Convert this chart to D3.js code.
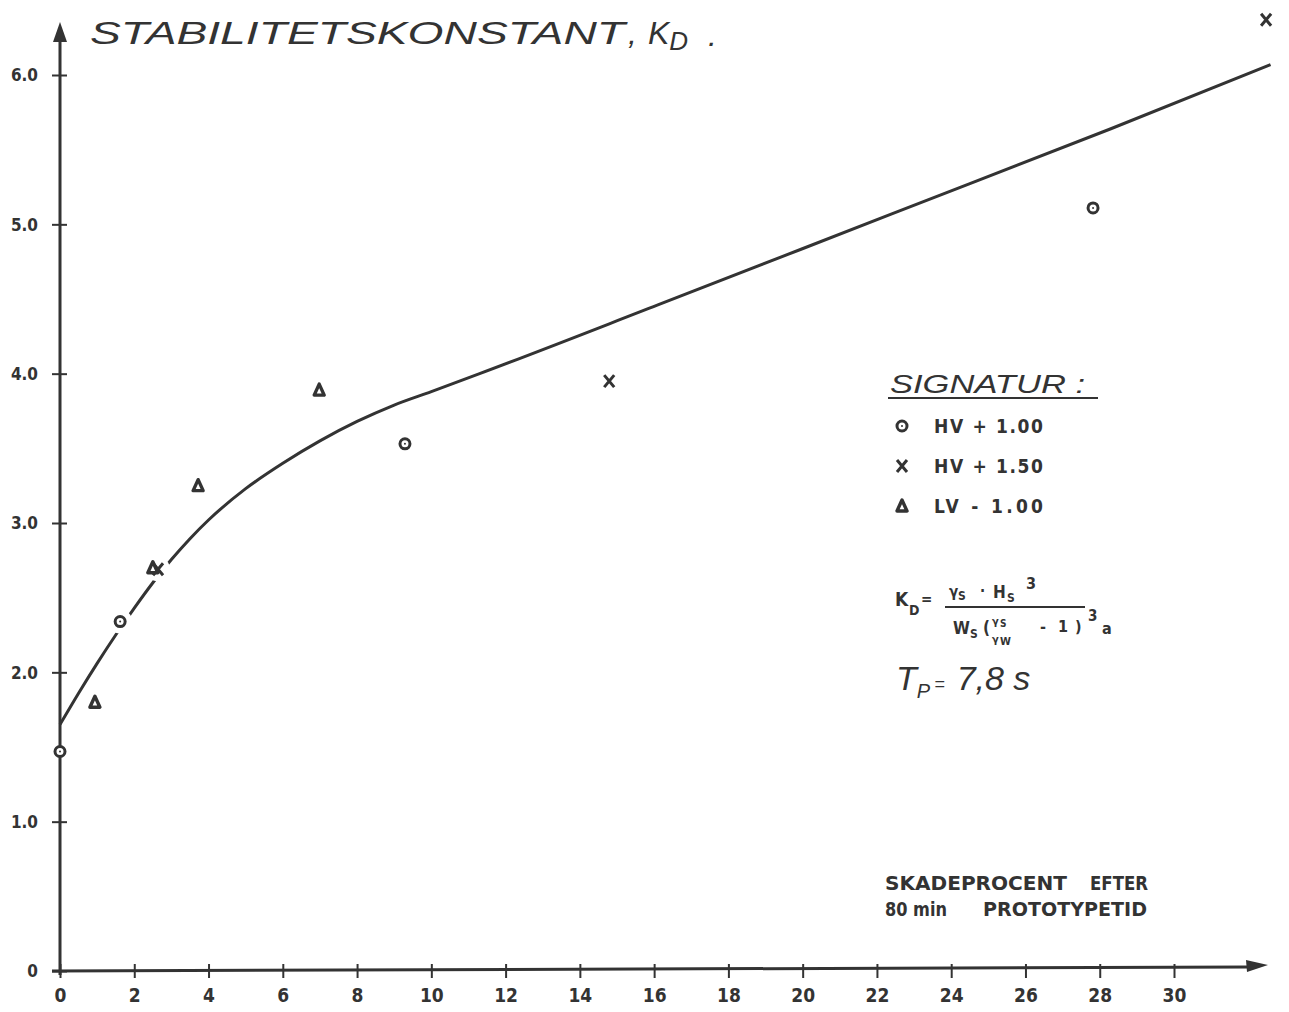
<!DOCTYPE html>
<html><head><meta charset="utf-8">
<script src="https://cdn.jsdelivr.net/npm/d3@7"></script>
<style>body{margin:0;background:#fff}</style>
</head><body>
<svg id="c" width="1289" height="1012"></svg>
<script>
// ---- data ----
const xTicks = [0,2,4,6,8,10,12,14,16,18,20,22,24,26,28,30];
const yTicks = [0,1,2,3,4,5,6];
const yTickLabels = ["0","1.0","2.0","3.0","4.0","5.0","6.0"];
const curveX = [0, 0.5, 1.0, 1.5, 2.0, 2.5, 3.0, 3.5, 4.0, 5.0, 6.0, 7.0, 8.0, 9.0, 10.0, 11.3, 16.1, 22.4, 28.3, 32.6];
const curveY = [1.65, 1.86, 2.06, 2.25, 2.43, 2.60, 2.755, 2.895, 3.02, 3.23, 3.40, 3.55, 3.68, 3.79, 3.88, 4.0, 4.46, 5.07, 5.64, 6.07];
const circleX = [0, 1.62, 9.29, 27.82];
const circleY = [1.47, 2.34, 3.53, 5.11];
const crossX = [2.64, 14.79, 32.48];
const crossY = [2.69, 3.95, 6.37];
const triX = [0.94, 2.50, 3.72, 6.98];
const triY = [1.80, 2.70, 3.25, 3.89];
const seriesNames = ["HV + 1.00", "HV + 1.50", "LV - 1.00"];
const seriesSymbols = ["circle", "cross", "triangle"];

// ---- chart ----
const ink = "#333";
const bold = "'DejaVu Sans Condensed','DejaVu Sans',sans-serif";
const hand = "'Liberation Sans',Arial,sans-serif";
const svg = d3.select("#c");
const x = d3.scaleLinear().domain([0,30]).range([60,1174]);
const y = d3.scaleLinear().domain([0,6]).range([971,75]);

// curve
const curvePts = curveX.map((v,i)=>[v,curveY[i]]);
svg.append("path").datum(curvePts)
  .attr("d", d3.line().x(d=>x(d[0])).y(d=>y(d[1])).curve(d3.curveMonotoneX))
  .attr("fill","none").attr("stroke",ink).attr("stroke-width",3);

// gaps in curve around markers
const allPts = [].concat(
  circleX.map((v,i)=>({x:v,y:circleY[i],s:"circle"})),
  crossX.map((v,i)=>({x:v,y:crossY[i],s:"cross"})),
  triX.map((v,i)=>({x:v,y:triY[i],s:"triangle"}))
);
svg.append("g").selectAll("circle").data(allPts.filter(d=>d.x>0.5)).join("circle")
  .attr("cx",d=>x(d.x)).attr("cy",d=>y(d.y)).attr("r",12).attr("fill","#fff");

// axes
const gx = svg.append("g").attr("transform","translate(0,971)")
  .call(d3.axisBottom(x).tickValues(xTicks).tickSize(7).tickFormat(d3.format("d")));
gx.select(".domain").remove();
gx.selectAll(".tick line").attr("y1",-7).attr("stroke",ink).attr("stroke-width",2);
gx.selectAll(".tick text").attr("y",18).attr("dy","0.71em")
  .attr("font-family",bold).attr("font-weight","bold").attr("font-size",19).attr("fill",ink);

const gy = svg.append("g").attr("transform","translate(60,0)")
  .call(d3.axisLeft(y).tickValues(yTicks).tickSize(8).tickFormat((d,i)=>yTickLabels[i]));
gy.select(".domain").remove();
gy.selectAll(".tick line").attr("x1",7).attr("stroke",ink).attr("stroke-width",2);
gy.selectAll(".tick text").attr("x",-22).attr("dy","0.35em")
  .attr("font-family",bold).attr("font-weight","bold").attr("font-size",17).attr("fill",ink);

svg.append("line").attr("x1",60).attr("y1",975).attr("x2",60).attr("y2",36)
  .attr("stroke",ink).attr("stroke-width",3);
svg.append("path").attr("d","M60,22 L53,42 L67,42 Z").attr("fill",ink);
svg.append("line").attr("x1",52).attr("y1",971).attr("x2",1250).attr("y2",967)
  .attr("stroke",ink).attr("stroke-width",3);
svg.append("path").attr("d","M1268,965 L1246,960 L1247,972 Z").attr("fill",ink);

// marker drawing
function drawSymbol(g, s, cx, cy){
  if(s==="circle"){
    g.append("circle").attr("cx",cx).attr("cy",cy).attr("r",5).attr("fill","#fff")
      .attr("stroke",ink).attr("stroke-width",3);
    g.append("circle").attr("cx",cx).attr("cy",cy).attr("r",1).attr("fill",ink);
  } else if(s==="cross"){
    g.append("path").attr("d",`M${cx-5},${cy-6}L${cx+5},${cy+6}M${cx+5},${cy-6}L${cx-5},${cy+6}`)
      .attr("stroke",ink).attr("stroke-width",3).attr("fill","none");
  } else {
    g.append("path").attr("d",`M${cx},${cy-6}L${cx+5},${cy+5}L${cx-5},${cy+5}Z`)
      .attr("stroke",ink).attr("stroke-width",3.4).attr("fill","#fff").attr("stroke-linejoin","round");
  }
}
const gm = svg.append("g");
allPts.forEach(d=>drawSymbol(gm, d.s, x(d.x), y(d.y)));

// title
const title = svg.append("text").attr("x",90).attr("y",44)
  .attr("font-family",hand).attr("font-style","italic").attr("font-size",32).attr("fill",ink);
title.append("tspan").text("STABILITETSKONSTANT").attr("textLength",535).attr("lengthAdjust","spacingAndGlyphs");
title.append("tspan").attr("x",628).text(",");
title.append("tspan").attr("x",648).text("K");
title.append("tspan").attr("font-size",26).attr("dy",6).text("D");
title.append("tspan").attr("x",708).attr("dy",-4).text(".");

// legend
svg.append("text").attr("x",890).attr("y",393).attr("font-family",hand).attr("font-style","italic")
  .attr("font-size",25).attr("fill",ink).attr("textLength",195).attr("lengthAdjust","spacingAndGlyphs")
  .text("SIGNATUR :");
svg.append("line").attr("x1",888).attr("x2",1098).attr("y1",398).attr("y2",398)
  .attr("stroke",ink).attr("stroke-width",2);
seriesNames.forEach((n,i)=>{
  const cy = 426 + i*40;
  drawSymbol(svg, seriesSymbols[i], 902, cy);
  svg.append("text").attr("x",934).attr("y",cy+7).attr("font-family",bold).attr("font-weight","bold")
    .attr("font-size",19).attr("fill",ink).attr("textLength",109).attr("lengthAdjust","spacing")
    .text(n);
});

// formula
const fg = svg.append("g").attr("font-family",bold).attr("font-weight","bold").attr("fill",ink);
function t(xx,yy,size,str){ fg.append("text").attr("x",xx).attr("y",yy).attr("font-size",size).text(str); }
t(895,606,19,"K"); t(909,615,14,"D"); t(921,604,15,"=");
t(949,597,15,"γ"); t(958,600,12,"S"); t(980,596,15,"·"); t(993,598,17,"H"); t(1007,602,12,"S"); t(1026,589,16,"3");
fg.append("line").attr("x1",945).attr("x2",1085).attr("y1",607).attr("y2",607).attr("stroke",ink).attr("stroke-width",1.8);
t(953,634,17,"W"); t(970,638,12,"S"); t(983,634,17,"(");
t(992,625,11,"γ"); t(1000,627,10,"S");
t(992,643,11,"γ"); t(1000,645,11,"W");
t(1040,632,16,"-"); t(1058,632,16,"1"); t(1075,632,16,")");
t(1088,621,15,"3"); t(1102,634,16,"a");

// Tp
const tp = svg.append("text").attr("x",896).attr("y",690).attr("font-family",hand)
  .attr("font-style","italic").attr("font-size",34).attr("fill",ink);
tp.append("tspan").text("T");
tp.append("tspan").attr("font-size",20).attr("dy",8).text("P");
tp.append("tspan").attr("dy",-8).attr("font-size",18).attr("dx",4).text("=");
tp.append("tspan").attr("dx",12).text("7,8 s");

// note
function note(xx,yy,len,str){
  svg.append("text").attr("x",xx).attr("y",yy).attr("font-family",bold).attr("font-weight","bold")
    .attr("font-size",19).attr("fill",ink).text(str).attr("textLength",len).attr("lengthAdjust","spacingAndGlyphs");
}
note(885,890,182,"SKADEPROCENT");
note(1090,890,58,"EFTER");
note(885,916,62,"80 min");
note(983,916,164,"PROTOTYPETID");
</script>
</body></html>
